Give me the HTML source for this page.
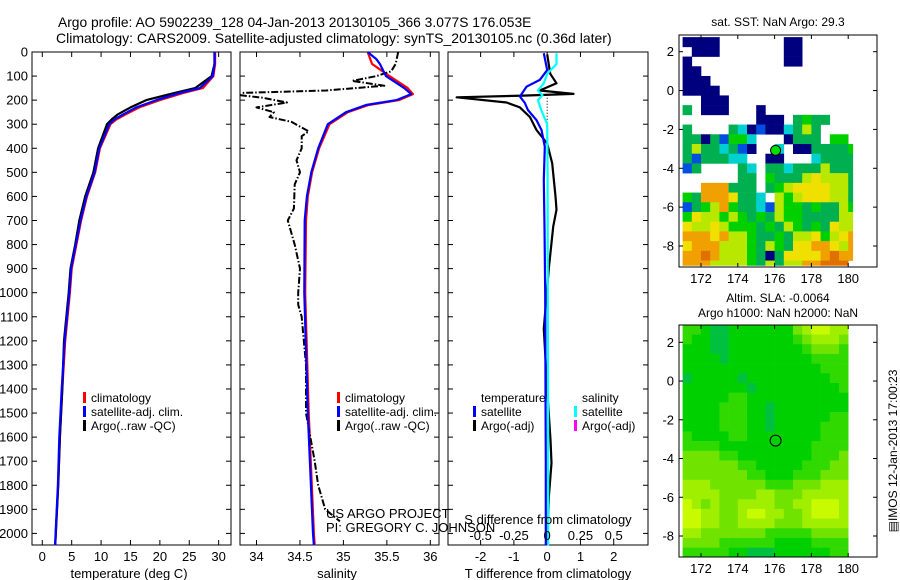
<!DOCTYPE html>
<html><head><meta charset="utf-8"><style>
html,body{margin:0;padding:0;background:#fff}
svg{display:block;font-family:"Liberation Sans",sans-serif}
text{fill:#000}
</style></head><body>
<svg id="fig" width="900" height="580" viewBox="0 0 900 580"></svg>
<script>
// ---------- data ----------
const tDepth = [0,50,100,150,170,200,230,260,280,300,400,500,600,700,800,900,1000,1200,1400,1600,1800,2000,2050];
const tClim  = [29.4,29.4,29.1,27.3,24.0,20.0,16.5,14.1,12.6,11.6,9.8,9.0,7.6,6.6,5.8,5.0,4.7,3.9,3.4,3.0,2.7,2.3,2.2];
const tSat   = [29.3,29.3,29.0,26.8,23.4,19.4,16.0,13.7,12.3,11.4,9.7,8.9,7.5,6.5,5.7,4.9,4.6,3.8,3.3,2.9,2.65,2.26,2.2];
const tArgo  = [29.3,29.3,28.8,26.0,22.5,17.7,15.0,12.8,11.8,11.0,9.5,8.7,7.3,6.3,5.6,4.8,4.5,3.7,3.4,3.0,2.7,2.3,2.2];

const sDepth = [0,30,50,100,150,175,200,220,250,300,400,500,600,700,1000,1500,2000,2050];
const sClim  = [35.28,35.31,35.33,35.53,35.74,35.80,35.64,35.29,35.05,34.84,34.72,34.64,34.59,34.57,34.56,34.60,34.66,34.67];
const sSat   = [35.28,35.38,35.42,35.49,35.70,35.78,35.61,35.26,35.03,34.82,34.71,34.63,34.58,34.555,34.55,34.59,34.65,34.66];
const sArgoDepth = [0,50,80,100,120,140,160,170,180,190,210,230,250,270,290,330,350,400,450,500,550,650,700,800,900,1000,1050,1100,1300,1500,1700,1800,1900,1950];
const sArgo  = [35.63,35.60,35.55,35.38,35.10,35.47,34.80,33.84,33.82,34.07,34.35,34.00,34.20,34.15,34.40,34.60,34.52,34.52,34.46,34.50,34.44,34.43,34.36,34.44,34.50,34.48,34.48,34.52,34.57,34.57,34.67,34.71,34.79,34.96];

const dTDepth = [5,75,116,144,185,212,241,283,324,393,532,726,1000,1400,1700,2050];
const dTSat   = [-0.1,0,-0.22,-0.62,-0.82,-0.67,-0.58,-0.32,-0.17,-0.07,-0.1,-0.08,-0.06,-0.05,-0.04,-0.04];
const dTArgoDepth = [10,90,130,160,174,181,188,210,230,270,324,380,463,600,655,726,900,1150,1400,1612,1707,1850,2050];
const dTArgo  = [0,0.09,0.28,-0.22,0.79,-0.72,-2.72,-1.22,-0.82,-0.52,-0.32,0,0.15,0.25,0.28,0.18,0.05,-0.1,0.0,0.1,0.13,0.05,0.0];
const dSDepth = [5,50,90,130,160,180,200,241,300,500,1000,1500,2050];
const dSSat   = [0.07,0.07,0,-0.025,-0.07,-0.035,-0.07,-0.045,0,0.003,0.005,0.007,0.008];

const depthTicks = [0,100,200,300,400,500,600,700,800,900,1000,1100,1200,1300,1400,1500,1600,1700,1800,1900,2000];
const tempTicks = [0,5,10,15,20,25,30];
const salTicks = [34,34.5,35,35.5,36];
const salTickLabels = ["34","34.5","35","35.5","36"];
const dTTicks = [-2,-1,0,1,2];
const dSTicks = [-0.5,-0.25,0,0.25,0.5];
const dSTickLabels = ["-0.5","-0.25","0","0.25","0.5"];
const lonTicks = [172,174,176,178,180];
const latTicks = [2,0,-2,-4,-6,-8];

// SST grid (0.5 deg cells, lat from 2.75 down, lon from 171)
const sstRows = [
"NNNN.......NN......",
".NNN.......NN......",
"N..........NN......",
"NN.................",
"NNN................",
"NNNN...............",
"..NNN..............",
"g.NNN...N..........",
"........NNN.gGgg...",
"g....gcNbNNcgyg....",
"ggNgbGGc...Nggg.GG.",
"gyggcgbN..c.NNggggG",
"gbgggcc..NN...cgggg",
"bg....gc.ggcgggyggg",
"......gg.GgggyYyyyg",
"..oooggg.gGyYYYYyyg",
"GgoooYggc.yGyYYYyyg",
"bgGyoGggcbyGGgGggyG",
"GYyyGyGgGgyGGggggyy",
"YyyYyGGGgGgyGgGgYyy",
"oooYoyyGggGgyyYGyYo",
"YoooyyyGgyGgYYooYyo",
"ooroyyyGgNgYYYYoroo",
"oooyyyyGgygyyoorrr."];
// SLA grid (0.5 deg cells, lat from 2.9 down, lon from 171), levels 0-5
const slaRows = [
"221001111111345544","211001111111234443","111001111111123332","111101111111112222",
"111111111111111222","011111011111111122","111111101111111112","111112211111111111",
"111122211011111111","111122211011111122","111122211011111222","211112211111111222",
"222211111111112222","333322111111112223","333333221111122233","333333322111222333",
"444333333222333444","444433334433344444","543433444433445554","554433455443345554",
"554433444433344444","443333333222223333","333322222211112222","222221100011111122"];
const argoLon = 176.053, argoLat = -3.077;

// ---------- helpers ----------
const NS="http://www.w3.org/2000/svg";
const svg=document.getElementById('fig');
function el(tag,attrs,parent){const e=document.createElementNS(NS,tag);for(const k in attrs)e.setAttribute(k,attrs[k]);(parent||svg).appendChild(e);return e;}
function txt(s,x,y,anchor,size,parent){const t=el('text',{x:x,y:y,'text-anchor':anchor||'start','font-size':size||12},parent);t.textContent=s;return t;}

const Y0=52, PXM=0.2407, YB=545;
const yD = d => Y0 + d*PXM;
const P1={x0:32,x1:231,v0:-1.75,v1:32.1};
const P2={x0:240,x1:439,v0:33.81,v1:36.1};
const P3={x0:448,x1:648,v0:-2.98,v1:3.03};
const xS=(P,v)=>P.x0+(v-P.v0)/(P.v1-P.v0)*(P.x1-P.x0);

function frame(P,name){
  const r=el('rect',{x:P.x0,y:Y0,width:P.x1-P.x0,height:YB-Y0,fill:'none',stroke:'#000','stroke-width':1});
  
  
  depthTicks.forEach(d=>{
    const t1=el('line',{x1:P.x0,x2:P.x0+5,y1:yD(d),y2:yD(d),stroke:'#000'});
    
    
    const t2=el('line',{x1:P.x1-5,x2:P.x1,y1:yD(d),y2:yD(d),stroke:'#000'});
    
    
  });
}
function xticks(P,vals,labels,ly,name){
  vals.forEach((v,i)=>{
    const x=xS(P,v);
    const a=el('line',{x1:x,x2:x,y1:Y0,y2:Y0+5,stroke:'#000'});
    
    
    const b=el('line',{x1:x,x2:x,y1:YB-5,y2:YB,stroke:'#000'});
    
    
    if(ly){const t=txt(labels?labels[i]:String(v),x,ly,'middle',13);
      
      }
  });
}
function series(P,vals,depths,color,width,dash,name,scale){
  const pts=vals.map((v,i)=>xS(P,v*(scale||1)).toFixed(1)+','+yD(depths[i]).toFixed(1)).join(' ');
  const a={points:pts,fill:'none',stroke:color,'stroke-width':width,'stroke-linejoin':'round'};
  if(dash)a['stroke-dasharray']=dash;
  const p=el('polyline',a);
  
  
}
function legendItem(x,y,color,label,name){
  const r=el('rect',{x:x,y:y-10,width:3,height:11,fill:color});
  
  
  const t=txt(label,x+8,y,'start',12);
  
  
}

// titles
let tt=txt('Argo profile: AO 5902239_128 04-Jan-2013 20130105_366 3.077S 176.053E',58,27,'start',13.8);


tt=txt('Climatology: CARS2009. Satellite-adjusted climatology: synTS_20130105.nc (0.36d later)',56,43,'start',14);



depthTicks.forEach(d=>{const t=txt(String(d),28,yD(d)+4.5,'end',13);
  
  });

// Panel 1 temperature
frame(P1,'temperature-panel');
xticks(P1,tempTicks,null,561,'temperature');
series(P1,tClim,tDepth,'#ff0000',2.2,null,'temperature-climatology-line');
series(P1,tArgo,tDepth,'#000000',2.2,null,'temperature-argo-line');
series(P1,tSat,tDepth,'#0000ff',2.2,null,'temperature-satellite-line');
tt=txt('temperature (deg C)',129,578,'middle',13);


legendItem(83,402,'#ff0000','climatology','legend-climatology');
legendItem(83,416,'#0000ff','satellite-adj. clim.','legend-satellite-adj');
legendItem(83,430,'#000000','Argo(..raw -QC)','legend-argo');

// Panel 2 salinity
frame(P2,'salinity-panel');
xticks(P2,salTicks,salTickLabels,561,'salinity');
series(P2,sClim,sDepth,'#ff0000',2.2,null,'salinity-climatology-line');
series(P2,sArgo,sArgoDepth,'#000000',2,'7,2,1.5,2','salinity-argo-line');
series(P2,sSat,sDepth,'#0000ff',2.2,null,'salinity-satellite-line');
tt=txt('salinity',337,578,'middle',13);


legendItem(337,402,'#ff0000','climatology','legend-climatology-2');
legendItem(337,416,'#0000ff','satellite-adj. clim.','legend-satellite-adj-2');
legendItem(337,430,'#000000','Argo(..raw -QC)','legend-argo-2');
tt=txt('US ARGO PROJECT',326,518,'start',13);


tt=txt('PI: GREGORY C. JOHNSON',326,532,'start',13);



// Panel 3 differences
frame(P3,'difference-panel');
xticks(P3,dTTicks,null,561,'t-difference');
const zl=el('line',{x1:xS(P3,0),x2:xS(P3,0),y1:yD(190),y2:yD(900),stroke:'#000','stroke-dasharray':'1,2'});


series(P3,dTArgo,dTArgoDepth,'#000000',2.2,null,'t-diff-argo-line');
series(P3,dTSat,dTDepth,'#0000ff',2.2,null,'t-diff-satellite-line');
series(P3,dSSat,dSDepth,'#00ffff',2.2,null,'s-diff-satellite-line',4);
dSTicks.forEach((v,i)=>{const t=txt(dSTickLabels[i],xS(P3,v*4),540,'middle',13);
  
  });
tt=txt('S difference from climatology',548,524,'middle',13);


tt=txt('T difference from climatology',548,578,'middle',13);


tt=txt('temperature',481,402,'start',12);


tt=txt('salinity',582,402,'start',12);


legendItem(473,416,'#0000ff','satellite','legend-t-satellite');
legendItem(473,430,'#000000','Argo(-adj)','legend-t-argo');
legendItem(574,416,'#00ffff','satellite','legend-s-satellite');
legendItem(574,430,'#ff00ff','Argo(-adj)','legend-s-argo');

// ---------- maps ----------
const sstColors={N:'#00007f',b:'#0050e0',c:'#00d0d0',g:'#00b050',G:'#00d000',y:'#b8e800',Y:'#f0e000',o:'#f0a000',r:'#e07000'};
const slaColors=['#00c040','#00d000','#30da00','#70e400','#a0ee00','#c8fa00'];
function mapAxes(M,name){
  const r=el('rect',{x:M.x0,y:M.y0,width:M.x1-M.x0,height:M.y1-M.y0,fill:'none',stroke:'#000'});
  
  
  lonTicks.forEach(v=>{const x=M.lx(v);
    const a=el('line',{x1:x,x2:x,y1:M.y1-4,y2:M.y1,stroke:'#000'});
    
    
    const b=el('line',{x1:x,x2:x,y1:M.y0,y2:M.y0+4,stroke:'#000'});
    
    
    const t=txt(String(v),x,M.y1+16,'middle',13);
    
    });
  latTicks.forEach(v=>{const y=M.ly(v);
    const a=el('line',{x1:M.x0,x2:M.x0+4,y1:y,y2:y,stroke:'#000'});
    
    
    const b=el('line',{x1:M.x1-4,x2:M.x1,y1:y,y2:y,stroke:'#000'});
    
    
    const t=txt(String(v),M.x0-5,y+4.5,'end',13);
    
    });
}
const M1={x0:679,x1:877,y0:35,y1:267,lx:v=>701+(v-172)*18.4,ly:v=>51.7-(v-2)*19.43};
const g1=el('g',{});


sstRows.forEach((row,j)=>{[...row].forEach((c,i)=>{
  if(c==='.')return;
  const lon=171+i*0.5, lat=2.75-j*0.5;
  const x=M1.lx(lon), y=M1.ly(lat);
  const w=Math.min(M1.lx(lon+0.5),M1.lx(180.25))-x, h=Math.min(M1.ly(lat-0.5),M1.ly(-9.0))-y;
  if(w<=0||h<=0)return;
  const r=el('rect',{x:x,y:y,width:w+0.3,height:h+0.3,fill:sstColors[c]},g1);
  
  
});});
mapAxes(M1,'sst-map');
const c1=el('circle',{cx:M1.lx(argoLon),cy:M1.ly(argoLat),r:5,fill:'#00e000',stroke:'#000','stroke-width':1});


tt=txt('sat. SST: NaN Argo: 29.3',778,26,'middle',12);



const M2={x0:679,x1:877,y0:325,y1:557,lx:v=>701+(v-172)*18.4,ly:v=>342.3-(v-2)*19.37};
const g2=el('g',{});


slaRows.forEach((row,j)=>{[...row].forEach((c,i)=>{
  const lon=171+i*0.5, lat=2.9-j*0.5;
  const x=M2.lx(lon), y=M2.ly(lat);
  const w=Math.min(M2.lx(lon+0.5),857)-x, h=Math.min(M2.ly(lat-0.5),M2.y1)-y;
  if(w<=0||h<=0)return;
  const r=el('rect',{x:x,y:y,width:w+0.3,height:h+0.3,fill:slaColors[+c]},g2);
  
  
});});
mapAxes(M2,'sla-map');
const c2=el('circle',{cx:M2.lx(argoLon),cy:M2.ly(argoLat),r:5.5,fill:'none',stroke:'#000','stroke-width':1});


tt=txt('Altim. SLA: -0.0064',778,302,'middle',12);


tt=txt('Argo h1000: NaN h2000: NaN',778,317,'middle',12);


tt=txt('\u25A4IMOS 12-Jan-2013 17:00:23',0,0,'middle',12);
tt.setAttribute('transform','translate(897,451) rotate(-90)');


</script>
</body></html>
